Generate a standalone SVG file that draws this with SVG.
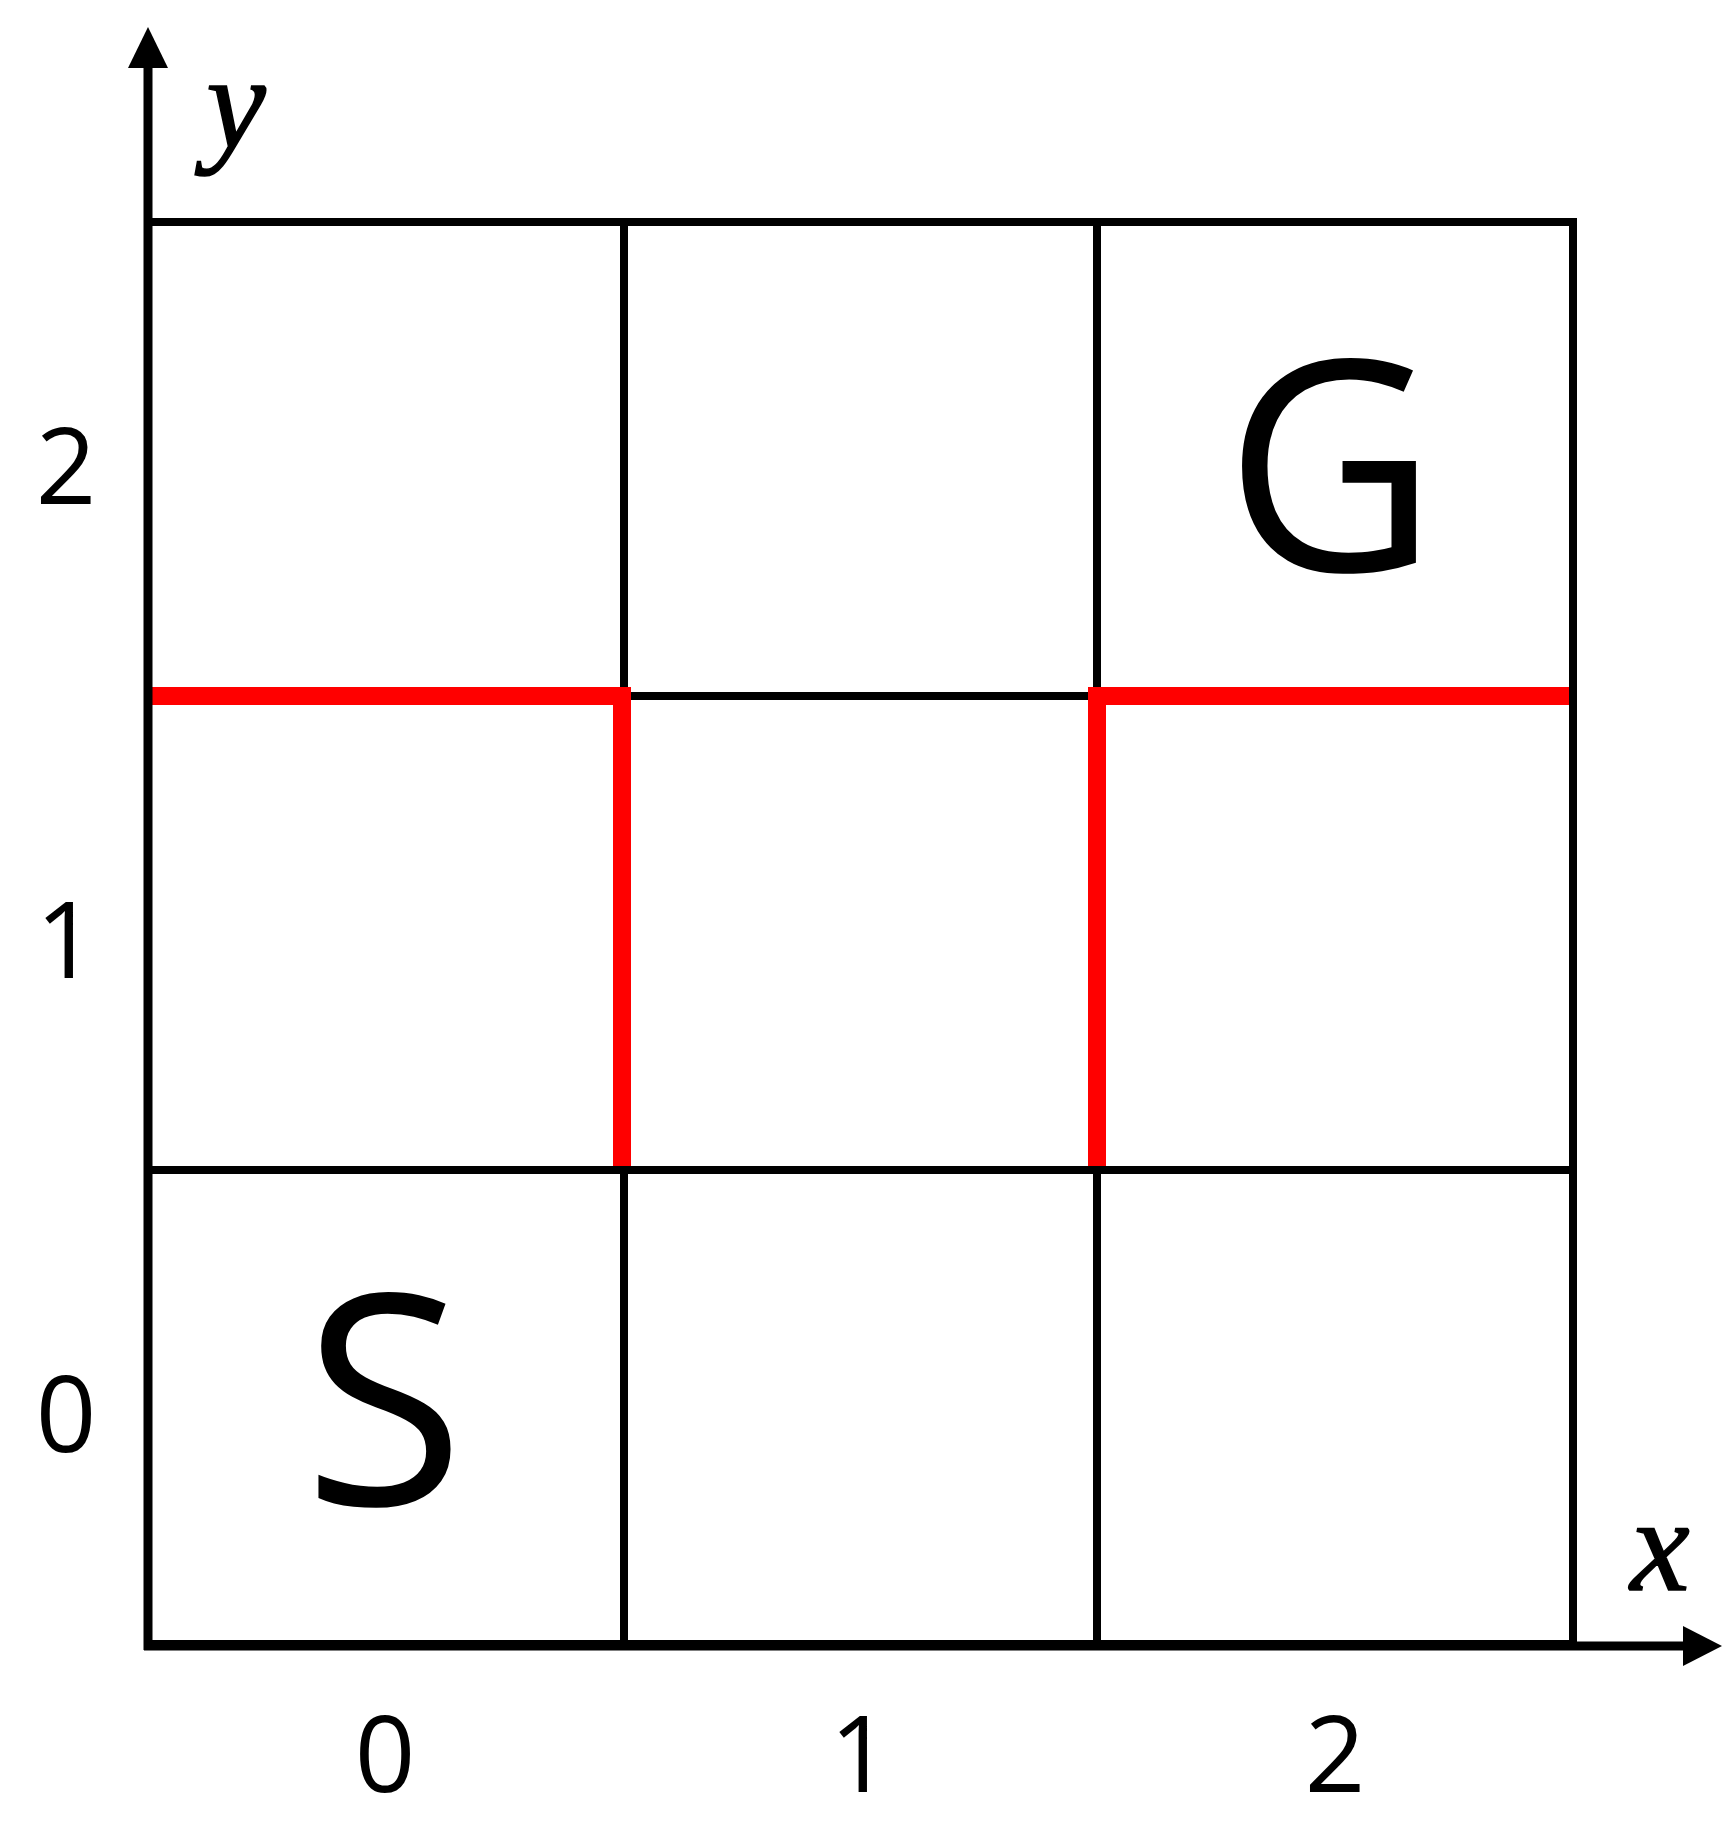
<svg xmlns="http://www.w3.org/2000/svg" width="1731" height="1825" viewBox="0 0 1731 1825">
<style>
.grid{stroke:#000;stroke-width:8;fill:none}
.wall{stroke:#ff0000;stroke-width:18;fill:none}
.axis{stroke:#000;stroke-width:9;fill:none}
.num{font-family:"Open Sans","Noto Sans",sans-serif;font-size:106px;fill:#000;text-anchor:middle}
.big{font-family:"Open Sans","Noto Sans",sans-serif;font-size:294px;fill:#000;text-anchor:middle}
.var{font-family:"Liberation Serif",serif;font-style:italic;font-size:134px;fill:#000;text-anchor:middle;stroke:#000;stroke-width:1.5}
</style>
<rect width="1731" height="1825" fill="#fff"/>
<g id="grid">
<rect class="grid" x="148" y="222" width="1425" height="1422"/>
<line class="grid" x1="624" y1="222" x2="624" y2="1644"/>
<line class="grid" x1="1097" y1="222" x2="1097" y2="1644"/>
<line class="grid" x1="148" y1="696" x2="1573" y2="696"/>
<line class="grid" x1="148" y1="1170" x2="1573" y2="1170"/>
</g>
<g id="walls">
<polyline class="wall" points="144,696 622,696 622,1166"/>
<polyline class="wall" points="1569,696 1097,696 1097,1166"/>
</g>
<g id="axes">
<line class="axis" x1="148" y1="1650" x2="148" y2="60"/>
<polygon points="148,27 128,68 168,68" fill="#000"/>
<line class="axis" x1="144" y1="1646" x2="1690" y2="1646"/>
<polygon points="1722,1646 1683,1626 1683,1666" fill="#000"/>
<text class="var" x="236" y="148">y</text>
<text class="var" x="1660" y="1590">x</text>
</g>
<g id="row-labels">
<text class="num" x="66" y="504">2</text>
<text class="num" x="66" y="978">1</text>
<text class="num" x="66" y="1452">0</text>
</g>
<g id="col-labels">
<text class="num" x="385" y="1792">0</text>
<text class="num" x="860" y="1792">1</text>
<text class="num" x="1335" y="1792">2</text>
</g>
<g id="cell-G"><text class="big" x="1331" y="571">G</text></g>
<g id="cell-S"><text class="big" x="384" y="1505">S</text></g>
</svg>
